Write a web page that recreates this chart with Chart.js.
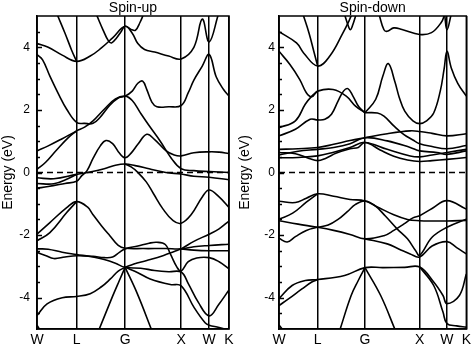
<!DOCTYPE html>
<html>
<head>
<meta charset="utf-8">
<script src="https://cdn.jsdelivr.net/npm/chart.js@4.4.1/dist/chart.umd.min.js"></script>
<style>
html, body { margin: 0; padding: 0; background: #fff; }
#wrap { position: relative; width: 474px; height: 347px; }
.panel { position: absolute; top: 0; }
</style>
</head>
<body>
<div id="wrap">
  <div class="panel" style="left:0"><canvas id="upChart" width="237" height="347"></canvas></div>
  <div class="panel" style="left:237px"><canvas id="downChart" width="237" height="347"></canvas></div>
</div>
<script>
// k-path: high symmetry points and their labels
var kPoints = [0, 0.707, 1.573, 2.573, 3.073, 3.427];
var kLabels = ['W', 'L', 'G', 'X', 'W', 'K'];
var energyTicks = [-4, -2, 0, 2, 4];
var fermiLevel = 0;

// bands, [k, E] pairs
var spinUpBands = [
  [[0,4.12],[0.2,4.0],[0.45,3.75],[0.707,3.55],[0.95,3.72],[1.15,3.98],[1.35,4.3],[1.573,4.67],[1.7,4.45],[1.8,4.12],[1.92,3.93],[2.1,3.85],[2.35,3.72],[2.573,3.63],[2.8,4.0],[2.95,4.9],[3.073,4.17],[3.24,5.07]],
  [[0.36,5.05],[0.5,4.45],[0.62,3.9],[0.707,3.55]],
  [[1.06,5.05],[1.18,4.55],[1.27,4.22],[1.33,4.14],[1.42,4.3],[1.5,4.5],[1.573,4.67],[1.68,4.57],[1.76,4.55],[1.84,4.8],[1.9,5.05]],
  [[0,3.77],[0.1,3.6],[0.23,3.08],[0.4,2.45],[0.53,2.02],[0.707,1.6],[0.85,1.57],[1.0,1.57],[1.12,1.75],[1.3,2.15],[1.45,2.38],[1.573,2.44],[1.7,2.6],[1.8,2.85],[1.886,2.92],[1.96,2.65],[2.05,2.25],[2.14,2.1],[2.35,2.1],[2.573,2.14],[2.7,2.55],[2.8,2.95],[2.95,3.4],[3.073,3.77],[3.2,3.05],[3.33,2.65],[3.427,2.44]],
  [[0,0.69],[0.2,0.85],[0.45,1.08],[0.707,1.33],[0.85,1.45],[1.0,1.65],[1.2,2.02],[1.4,2.35],[1.573,2.44],[1.7,2.3],[1.84,1.92],[2.0,1.5],[2.2,1.0],[2.4,0.45],[2.573,0.12],[2.8,0.06],[3.073,0.03],[3.427,0.0]],
  [[0,0.1],[0.15,0.32],[0.35,0.72],[0.55,1.1],[0.707,1.33]],
  [[0,-0.5],[0.2,-0.45],[0.5,-0.35],[0.707,-0.28],[0.8,-0.1],[0.89,0.05],[1.0,0.45],[1.13,0.85],[1.23,1.02],[1.35,0.92],[1.47,0.62],[1.573,0.47],[1.68,0.62],[1.8,0.9],[1.96,1.22],[2.1,1.05],[2.3,0.7],[2.45,0.56],[2.573,0.53],[2.8,0.63],[3.073,0.66],[3.25,0.65],[3.427,0.6]],
  [[0,-0.17],[0.3,-0.2],[0.707,-0.06],[0.9,0.0],[1.2,0.12],[1.4,0.23],[1.573,0.27],[1.75,0.22],[2.0,0.12],[2.3,0.0],[2.573,-0.05],[2.8,-0.12],[3.073,-0.15],[3.427,-0.23]],
  [[0,-0.35],[0.3,-0.36],[0.55,-0.2],[0.707,-0.06]],
  [[1.573,0.27],[1.68,0.18],[1.79,0.02],[1.95,-0.3],[2.08,-0.68],[2.25,-1.17],[2.43,-1.54],[2.573,-1.62],[2.75,-1.35],[2.95,-0.78],[3.073,-0.56],[3.25,-0.78],[3.427,-1.12]],
  [[0,-1.97],[0.23,-1.6],[0.53,-1.12],[0.707,-0.93],[0.9,-1.1],[1.0,-1.35],[1.15,-1.7],[1.3,-2.02],[1.45,-2.33],[1.573,-2.42],[1.9,-2.43],[2.3,-2.43],[2.573,-2.44],[2.8,-2.37],[3.073,-2.33],[3.427,-2.29]],
  [[0,-2.18],[0.23,-1.92],[0.53,-1.28],[0.707,-0.93]],
  [[0,-2.44],[0.2,-2.45],[0.45,-2.55],[0.707,-2.62],[1.0,-2.7],[1.2,-2.78],[1.4,-2.9],[1.573,-3.03],[1.85,-3.06],[2.1,-3.13],[2.35,-3.17],[2.573,-3.18],[2.7,-3.55],[2.88,-4.15],[3.073,-4.58],[3.25,-4.2],[3.427,-3.75]],
  [[0,-2.55],[0.15,-2.65],[0.3,-2.75],[0.5,-2.7],[0.707,-2.66],[1.0,-2.68],[1.2,-2.72],[1.35,-2.7],[1.47,-2.55],[1.573,-2.44],[1.8,-2.35],[2.0,-2.26],[2.14,-2.23],[2.29,-2.3],[2.38,-2.6],[2.5,-3.03],[2.573,-3.15],[2.7,-2.85],[2.85,-2.73],[3.073,-2.72],[3.25,-2.85],[3.427,-3.08]],
  [[1.573,-3.03],[1.73,-2.92],[1.96,-2.81],[2.26,-2.65],[2.45,-2.52],[2.573,-2.44],[2.8,-2.2],[3.073,-1.97],[3.25,-1.8],[3.427,-1.55]],
  [[2.573,-2.44],[2.8,-2.48],[3.073,-2.5],[3.427,-2.5]],
  [[0,-4.57],[0.18,-4.2],[0.45,-4.0],[0.707,-3.96],[0.95,-3.87],[1.15,-3.65],[1.31,-3.4],[1.45,-3.15],[1.573,-3.03]],
  [[0,-4.88],[0.06,-5.05]],
  [[1.1,-5.05],[1.35,-3.95],[1.47,-3.45],[1.573,-3.03]],
  [[1.573,-3.03],[1.79,-3.87],[2.05,-5.05]],
  [[1.573,-3.03],[1.8,-3.2],[2.02,-3.4],[2.38,-3.58],[2.573,-3.62],[2.8,-4.3],[3.0,-4.8],[3.073,-4.88],[3.25,-4.95],[3.427,-5.05]]
];

var spinDownBands = [
  [[0,4.5],[0.32,4.14],[0.45,3.82],[0.707,3.4],[0.93,3.72],[1.17,4.46],[1.29,4.88],[1.33,5.05]],
  [[0.44,5.05],[0.55,4.45],[0.64,3.85],[0.707,3.4]],
  [[1.2,5.05],[1.26,4.72],[1.305,4.56],[1.35,4.72],[1.41,5.05]],
  [[1.83,5.05],[1.92,4.56],[1.98,4.51],[2.1,4.62],[2.25,4.57],[2.573,4.41],[2.79,4.47],[2.97,4.8],[3.03,5.05]],
  [[3.03,5.05],[3.073,4.56],[3.15,5.05]],
  [[0,3.87],[0.2,3.45],[0.38,2.97],[0.5,2.55],[0.6,2.42],[0.707,2.6],[0.99,2.65],[1.23,2.44],[1.4,2.12],[1.573,1.91]],
  [[0,1.17],[0.3,1.38],[0.57,1.7],[0.707,1.68],[0.84,1.7],[0.96,1.86],[1.08,2.28],[1.18,2.6],[1.26,2.68],[1.35,2.45],[1.46,2.1],[1.573,1.91]],
  [[0,1.43],[0.3,1.65],[0.48,2.18],[0.6,2.44],[0.707,2.6]],
  [[1.573,1.91],[1.77,2.34],[1.9,3.08],[2.0,3.48],[2.12,2.9],[2.2,2.4],[2.3,1.96],[2.45,1.65],[2.573,1.56],[2.7,1.65],[2.83,1.9],[2.95,2.6],[3.02,3.3],[3.073,3.87],[3.15,3.35],[3.27,2.85],[3.427,2.44]],
  [[1.573,1.91],[1.8,1.9],[1.92,1.8],[2.1,1.49],[2.28,1.22],[2.45,1.04],[2.573,0.92],[2.8,0.83],[3.073,0.76],[3.427,0.86]],
  [[0,0.74],[0.35,0.76],[0.707,0.8],[1.0,0.9],[1.3,1.02],[1.573,1.11],[1.98,1.24],[2.4,1.33],[2.573,1.31],[2.8,1.25],[3.073,1.17],[3.427,1.24]],
  [[0,0.56],[0.35,0.68],[0.707,0.74],[1.0,0.8],[1.3,0.92],[1.573,1.11],[1.98,1.01],[2.4,0.8],[2.573,0.69],[2.89,0.64],[3.073,0.58],[3.427,0.69]],
  [[0,0.64],[0.3,0.6],[0.55,0.45],[0.707,0.38],[0.85,0.45],[1.05,0.62],[1.3,0.76],[1.45,0.8],[1.573,0.96],[1.98,0.74],[2.4,0.53],[2.573,0.5],[2.8,0.56],[3.073,0.64],[3.427,0.74]],
  [[0,0.47],[0.35,0.48],[0.707,0.53],[1.0,0.65],[1.3,0.8],[1.573,0.96],[1.85,0.72],[2.1,0.52],[2.35,0.4],[2.573,0.35],[2.8,0.38],[3.073,0.42],[3.427,0.48]],
  [[0,-0.92],[0.3,-0.96],[0.5,-0.82],[0.707,-0.68],[1.0,-0.76],[1.3,-0.86],[1.573,-0.91],[1.8,-1.1],[2.1,-1.35],[2.35,-1.5],[2.573,-1.54],[2.8,-1.55],[3.073,-1.55],[3.427,-1.53]],
  [[0,-1.49],[0.25,-1.3],[0.5,-0.95],[0.707,-0.68]],
  [[0,-1.54],[0.35,-1.65],[0.707,-1.75],[1.0,-1.85],[1.3,-1.98],[1.573,-2.12],[1.92,-2.02],[2.1,-1.85],[2.28,-1.65],[2.45,-1.45],[2.573,-1.38],[2.8,-1.15],[3.073,-0.9],[3.427,-1.17]],
  [[0,-2.1],[0.15,-2.22],[0.3,-2.05],[0.5,-1.85],[0.707,-1.75],[0.9,-1.68],[1.08,-1.5],[1.25,-1.25],[1.4,-1.02],[1.573,-0.91],[1.75,-1.05],[1.95,-1.4],[2.16,-1.8],[2.35,-2.12],[2.5,-2.5],[2.573,-2.65],[2.8,-2.07],[3.073,-1.75],[3.427,-1.49]],
  [[1.573,-2.12],[1.98,-2.28],[2.2,-2.45],[2.4,-2.6],[2.573,-2.7],[2.8,-2.35],[3.073,-2.21],[3.25,-2.4],[3.427,-2.6]],
  [[0,-4.03],[0.24,-3.61],[0.48,-3.45],[0.707,-3.42],[1.2,-3.29],[1.573,-3.04],[1.9,-3.04],[2.3,-3.03],[2.573,-3.02],[2.83,-3.5],[3.0,-3.93],[3.073,-4.19],[3.3,-3.93],[3.427,-3.24]],
  [[0,-4.25],[0.18,-4.03],[0.42,-3.72],[0.6,-3.5],[0.707,-3.42]],
  [[0,-4.87],[0.08,-5.05]],
  [[1.11,-5.05],[1.32,-3.93],[1.45,-3.45],[1.573,-3.04]],
  [[1.573,-3.04],[1.86,-3.93],[2.13,-5.05]],
  [[2.573,-3.02],[2.83,-3.61],[3.0,-4.46],[3.073,-4.83],[3.25,-4.9],[3.427,-4.94]]
];

var FONT = 'Liberation Sans, Arial, sans-serif';

// box round the plot + small inward ticks on the energy axis
var framePlugin = {
  id: 'frame',
  afterDatasetsDraw: function(chart) {
    var a = chart.chartArea, c = chart.ctx, y = chart.scales.y;
    c.save();
    c.strokeStyle = '#000';
    c.lineWidth = 1.5;
    c.strokeRect(a.left, a.top, a.right - a.left, a.bottom - a.top);
    for (var v = -4.5; v <= 4.5; v += 0.5) {
      var py = Math.round(y.getPixelForValue(v)) + 0.5;
      var len = energyTicks.indexOf(v) >= 0 ? 5 : 3;
      c.beginPath();
      c.moveTo(a.left, py);
      c.lineTo(a.left + len, py);
      c.stroke();
    }
    c.restore();
  }
};

function bandChart(id, title, bands, axisWidth, rightPad, labelPad) {
  var datasets = bands.map(function(b) {
    return {
      data: b.map(function(p) { return {x: p[0], y: p[1]}; }),
      showLine: true, borderColor: '#000', borderWidth: 1.6,
      pointRadius: 0, tension: 0.4, fill: false
    };
  });
  datasets.push({
    data: [{x: kPoints[0], y: fermiLevel}, {x: kPoints[kPoints.length - 1], y: fermiLevel}],
    showLine: true, borderColor: '#000', borderWidth: 1.6, borderDash: [6, 4], pointRadius: 0
  });

  return new Chart(document.getElementById(id), {
    type: 'scatter',
    data: { datasets: datasets },
    options: {
      responsive: false,
      animation: false,
      layout: { padding: { left: 0, right: rightPad, top: 0, bottom: 0 } },
      plugins: {
        legend: { display: false },
        tooltip: { enabled: false },
        title: {
          display: true, text: title, fullSize: false, color: '#000',
          font: { family: FONT, size: 14, weight: 'normal', lineHeight: 1 },
          padding: { top: 1, bottom: 1 }
        }
      },
      scales: {
        x: {
          type: 'linear', min: kPoints[0], max: kPoints[kPoints.length - 1],
          afterBuildTicks: function(s) { s.ticks = kPoints.map(function(v) { return {value: v}; }); },
          afterFit: function(s) { s.height = 18; },
          ticks: {
            autoSkip: false, maxRotation: 0, padding: 3, color: '#000',
            font: { family: FONT, size: 14 },
            callback: function(v, i) { return kLabels[i]; }
          },
          grid: { color: '#000', lineWidth: 1.5, drawTicks: false },
          border: { color: '#000', width: 1.5 }
        },
        y: {
          min: -5, max: 5,
          afterBuildTicks: function(s) { s.ticks = energyTicks.map(function(v) { return {value: v}; }); },
          afterFit: function(s) { s.width = axisWidth; },
          ticks: { color: '#000', padding: labelPad, font: { family: FONT, size: 12 } },
          grid: { display: false, drawTicks: false },
          border: { color: '#000', width: 1.5 },
          title: {
            display: true, text: 'Energy (eV)', color: '#000', padding: 0,
            font: { family: FONT, size: 14 }
          }
        }
      }
    },
    plugins: [framePlugin]
  });
}

bandChart('upChart', 'Spin-up', spinUpBands, 37, 8, 7);
bandChart('downChart', 'Spin-down', spinDownBands, 42, 5, 4);
</script>
</body>
</html>
